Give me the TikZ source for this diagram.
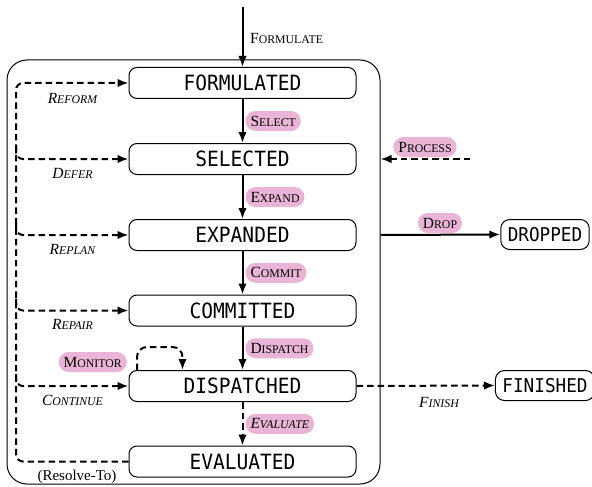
\documentclass[tikz,border=0pt]{standalone}
\usepackage{fontspec}
\newfontfamily\statefont[FakeStretch=0.93]{DejaVu Sans Mono}
\newfontfamily\lblfont{Liberation Serif}
\usetikzlibrary{arrows.meta}
\definecolor{pillpink}{RGB}{234,180,214}
\newcommand\fsc[2]{#1{\fontsize{11.8}{11.8}\selectfont #2}}
\begin{document}
\begin{tikzpicture}[x=1pt,y=-1pt,
 state/.style={draw,line width=1pt,rounded corners=8pt,minimum width=227pt,minimum height=31pt,inner sep=0pt,font=\statefont\fontsize{21}{21}\selectfont},
 outstate/.style={draw,line width=1pt,rounded corners=9pt,minimum height=30pt,inner xsep=7pt,inner ysep=0pt,font=\statefont\fontsize{19}{19}\selectfont},
 pill/.style={fill=pillpink,rounded corners=10pt,inner xsep=5pt,inner ysep=0pt,minimum height=20pt,font=\lblfont\fontsize{15.5}{15.5}\selectfont},
 lbl/.style={inner sep=0pt,font=\lblfont\fontsize{15.5}{15.5}\selectfont},
 ilbl/.style={inner sep=0pt,font=\lblfont\fontsize{15.5}{15.5}\selectfont\itshape},
 trans/.style={line width=2pt,-{Latex[length=11pt,width=8.5pt]}},
 dtrans/.style={trans,dash pattern=on 6.5pt off 4pt},
]
\useasboundingbox (0,0) rectangle (592,487);
% container
\node[draw,line width=1pt,rounded corners=20pt,minimum width=373pt,minimum height=424pt,inner sep=0pt] (box) at (193.5,272) {};
% states
\node[state] (F) at (242.5,83) {FORMULATED};
\node[state] (S) at (242.5,159) {SELECTED};
\node[state] (E) at (242.5,235) {EXPANDED};
\node[state] (C) at (242.5,310.5) {COMMITTED};
\node[state] (D) at (242.5,386) {DISPATCHED};
\node[state] (V) at (242.5,461.5) {EVALUATED};
\node[outstate] (DR) at (545,234.5) {DROPPED};
\node[outstate] (FI) at (545,385.5) {FINISHED};
% entry
\coordinate (start) at (242.5,7);
\draw[trans] (start) -- (F.north);
\node[lbl,anchor=west] (lf) at (250,38) {\fsc{F}{ORMULATE}};
% main chain
\draw[trans] (F) -- (S) node[midway,pill,anchor=west,xshift=2pt] {\fsc{S}{ELECT}};
\draw[trans] (S) -- (E) node[midway,pill,anchor=west,xshift=2pt] {\fsc{E}{XPAND}};
\draw[trans] (E) -- (C) node[midway,pill,anchor=west,xshift=2pt] {\fsc{C}{OMMIT}};
\draw[trans] (C) -- (D) node[midway,pill,anchor=west,xshift=2pt] {\fsc{D}{ISPATCH}};
\draw[dtrans] (D) -- (V) node[midway,pill,anchor=west,xshift=2pt,font=\lblfont\fontsize{15.5}{15.5}\selectfont\itshape] {\fsc{E}{VALUATE}};
% left return paths
\coordinate (lx) at (16,0);
\draw[dtrans,rounded corners=7pt] (V.west) -| (lx |- F) -- (F.west);
\draw[dtrans,rounded corners=7pt] ([yshift=12pt]lx |- S) |- (S.west);
\draw[dtrans,rounded corners=7pt] ([yshift=12pt]lx |- E) |- (E.west);
\draw[dtrans,rounded corners=7pt] ([yshift=12pt]lx |- C) |- (C.west);
\draw[dtrans,rounded corners=7pt] ([yshift=12pt]lx |- D) |- (D.west);
\node[ilbl] (lr1) at (72.5,98) {\fsc{R}{EFORM}};
\node[ilbl] (lr2) at (72.5,173) {\fsc{D}{EFER}};
\node[ilbl] (lr3) at (72.5,249) {\fsc{R}{EPLAN}};
\node[ilbl] (lr4) at (72.5,324) {\fsc{R}{EPAIR}};
\node[ilbl] (lr5) at (72.5,400) {\fsc{C}{ONTINUE}};
\node[inner sep=0pt,font=\lblfont\fontsize{15}{15}\selectfont] (rt) at (77,477) {(Resolve-To)};
% monitor loop
\coordinate (m1) at ([xshift=-105.5pt]D.north);
\coordinate (m2) at ([xshift=-60pt]D.north);
\draw[dtrans,rounded corners=10pt] (m1) -- ++(0,-23) -| (m2);
\node[pill,anchor=east] (mon) at (127,362) {\fsc{M}{ONITOR}};
% right side
\coordinate (pstart) at (470,159);
\draw[dtrans] (pstart) -- (box.east |- pstart);
\node[pill] (pp) at (425,147) {\fsc{P}{ROCESS}};
\draw[trans] (box.east |- E) -- (DR.west);
\node[pill] (pd) at (440,223) {\fsc{D}{ROP}};
\draw[dtrans] (D.east) -- (FI.west);
\node[ilbl] (lfin) at (439,402) {\fsc{F}{INISH}};
\end{tikzpicture}
\end{document}
